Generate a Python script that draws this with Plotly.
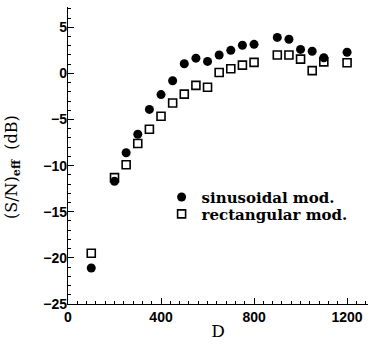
import plotly.graph_objects as go

D_sin = [100, 200, 250, 300, 350, 400, 450, 500, 550, 600, 650, 700, 750, 800, 900, 950, 1000, 1050, 1100, 1200]
sin_vals = [-21.1, -11.7, -8.6, -6.6, -3.9, -2.3, -0.8, 1.05, 1.65, 1.3, 2.0, 2.5, 3.05, 3.15, 3.9, 3.7, 2.6, 2.4, 1.7, 2.3]
D_rect = [100, 200, 250, 300, 350, 400, 450, 500, 550, 600, 650, 700, 750, 800, 900, 950, 1000, 1050, 1100, 1200]
rect_vals = [-19.5, -11.3, -9.9, -7.6, -6.05, -4.65, -3.2, -2.25, -1.3, -1.5, 0.1, 0.5, 0.9, 1.2, 2.0, 2.0, 1.55, 0.3, 1.25, 1.15]

fig = go.Figure()
fig.add_trace(go.Scatter(
    x=D_sin, y=sin_vals, mode="markers", name="sinusoidal mod.", legend="legend",
    marker=dict(symbol="circle", size=9, color="black", line=dict(width=0)),
))
fig.add_trace(go.Scatter(
    x=D_rect, y=rect_vals, mode="markers", name="rectangular mod.", legend="legend2",
    marker=dict(symbol="square-open", size=8, color="black", line=dict(width=1.6)),
))

axis_common = dict(
    showline=True, linecolor="black", linewidth=1.3, mirror=False,
    ticks="inside", ticklen=6, tickwidth=1.2, tickcolor="black",
    showgrid=False, zeroline=False,
    tickfont=dict(family="Liberation Sans", size=14, color="black", weight="bold"),
)

legend_font = dict(family="DejaVu Serif", size=15, color="black", weight="bold")

fig.update_layout(
    width=370, height=347,
    margin=dict(l=68, r=2, t=7, b=43),
    paper_bgcolor="white", plot_bgcolor="white",
    showlegend=True,
    legend=dict(
        x=0.312, y=0.415, xanchor="left", yanchor="top",
        bgcolor="rgba(0,0,0,0)", font=legend_font, itemwidth=30,
    ),
    legend2=dict(
        x=0.312, y=0.358, xanchor="left", yanchor="top",
        bgcolor="rgba(0,0,0,0)", font=legend_font, itemwidth=30,
    ),
    xaxis=dict(
        range=[0, 1290], tickmode="linear", tick0=0, dtick=400,
        minor=dict(ticks="inside", ticklen=3, tickwidth=1, tickcolor="black", dtick=40, showgrid=False),
        title=dict(text="D", font=dict(family="DejaVu Serif", size=17, color="black"), standoff=1),
        **axis_common,
    ),
    yaxis=dict(
        range=[-25, 7.2], tickmode="linear", tick0=-25, dtick=5,
        minor=dict(ticks="inside", ticklen=3, tickwidth=1, tickcolor="black", dtick=1, showgrid=False),
        ticklabelstandoff=-3,
        **axis_common,
    ),
    annotations=[dict(
        text="(S/N)<sub><b>eff</b></sub>  (dB)", textangle=-90,
        xref="paper", yref="paper", x=-0.187, y=0.461,
        xanchor="center", yanchor="middle", showarrow=False,
        font=dict(family="DejaVu Serif", size=16, color="black"),
    )],
)

fig.write_html("out.html")
